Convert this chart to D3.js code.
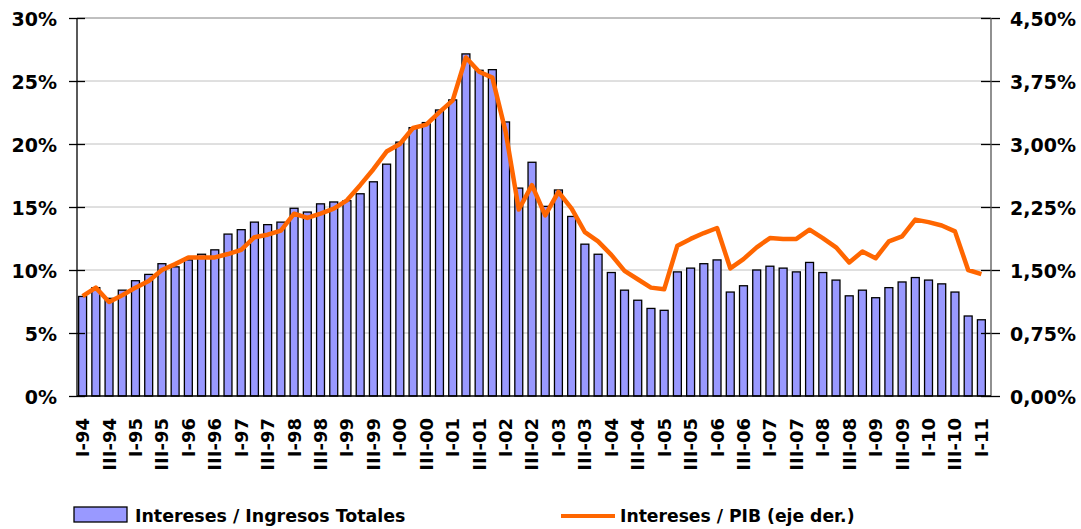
<!DOCTYPE html>
<html><head><meta charset="utf-8">
<script src="https://cdn.jsdelivr.net/npm/d3@7/dist/d3.min.js"></script>
<style>body{margin:0;background:#fff}svg{display:block}text{font-family:"DejaVu Sans",Verdana,sans-serif;font-weight:bold}</style>
</head><body><svg id="c" width="1081" height="529"></svg>
<script>
const years = ["94","95","96","97","98","99","00","01","02","03","04","05","06","07","08","09","10","11"];
const quarters = ["I","II","III","IV"];
const categories = [];
years.forEach(y => quarters.forEach(q => { if (categories.length < 69) categories.push(q + "-" + y); }));

const interesesIngresos = [7.9,8.6,7.75,8.4,9.15,9.65,10.5,10.25,10.8,11.25,11.6,12.85,13.2,13.8,13.6,13.8,
  14.9,14.6,15.25,15.4,15.5,16.05,17.0,18.4,20.15,21.3,21.7,22.7,23.5,27.15,25.85,25.9,
  21.75,16.5,18.55,15.05,16.35,14.25,12.05,11.25,9.8,8.4,7.6,6.95,6.8,9.85,10.15,10.5,
  10.8,8.25,8.75,10.0,10.3,10.15,9.85,10.6,9.8,9.2,7.95,8.4,7.8,8.6,9.05,9.4,9.2,8.9,8.25,6.35,6.05];
const interesesPIB = [1.19,1.29,1.12,1.2,1.29,1.37,1.5,1.57,1.65,1.65,1.65,1.69,1.74,1.89,1.92,1.97,
  2.17,2.12,2.17,2.23,2.33,2.51,2.7,2.91,3.0,3.19,3.23,3.38,3.52,4.03,3.86,3.79,
  3.15,2.22,2.51,2.15,2.43,2.23,1.95,1.84,1.68,1.49,1.39,1.29,1.27,1.79,1.87,1.94,
  2.0,1.52,1.63,1.77,1.88,1.87,1.87,1.98,1.88,1.77,1.59,1.72,1.64,1.84,1.9,2.1,2.07,2.03,1.96,1.5,1.45];
const leftTicks = [0,5,10,15,20,25,30];
const rightTicks = [0,0.75,1.5,2.25,3.0,3.75,4.5];
const seriesNames = ["Intereses / Ingresos Totales","Intereses / PIB (eje der.)"];

const svg = d3.select("#c");
const L = 77, R = 991, T = 18, B = 396;
const x = d3.scaleBand().domain(categories).range([76, 988]).paddingInner(0.4).paddingOuter(0.2);
const yL = d3.scaleLinear().domain([0,30]).range([B, T]);
const yR = d3.scaleLinear().domain([0,4.5]).range([B, T]);

// gridlines
svg.append("g").selectAll("line").data(leftTicks.slice(1)).join("line")
  .attr("x1", L).attr("x2", R).attr("y1", d => yL(d)).attr("y2", d => yL(d))
  .attr("stroke", d => d === 30 ? "#808080" : "#c0c0c0").attr("stroke-width", 1);

// bars
svg.append("g").selectAll("rect").data(interesesIngresos).join("rect")
  .attr("x", (d,i) => x(categories[i])).attr("width", x.bandwidth())
  .attr("y", d => yL(d)).attr("height", d => B - yL(d))
  .attr("fill", "#9999ff").attr("stroke", "#000").attr("stroke-width", 1.3);

// line
const line = d3.line().x((d,i) => x(categories[i]) + x.bandwidth()/2).y(d => yR(d));
svg.append("path").datum(interesesPIB).attr("d", line)
  .attr("fill", "none").attr("stroke", "#ff6600").attr("stroke-width", 4.5).attr("stroke-linejoin", "round");

// left axis
const gl = svg.append("g").attr("transform", `translate(${L},0)`);
gl.call(d3.axisLeft(yL).tickValues(leftTicks).tickSize(0).tickFormat(d => d + "%"));
gl.select(".domain").remove();
gl.append("line").attr("x1",0).attr("x2",0).attr("y1",T).attr("y2",B).attr("stroke","#000").attr("stroke-width",1.3);
gl.selectAll(".tick").append("line").attr("x1",-8).attr("x2",8).attr("stroke","#000").attr("stroke-width",1.3);
gl.selectAll(".tick text").attr("x",-20).attr("dy","0.42em").style("font-size","19px").attr("fill","#000");

// right axis
const gr = svg.append("g").attr("transform", `translate(${R},0)`);
gr.call(d3.axisRight(yR).tickValues(rightTicks).tickSize(0).tickFormat(d => d3.format(".2f")(d).replace(".", ",") + "%"));
gr.select(".domain").remove();
gr.append("line").attr("x1",0).attr("x2",0).attr("y1",T).attr("y2",B).attr("stroke","#555").attr("stroke-width",1.3);
gr.selectAll(".tick").append("line").attr("x1",-10).attr("x2",9).attr("stroke","#000").attr("stroke-width",1.3);
gr.selectAll(".tick text").attr("x",19).attr("dy","0.42em").style("font-size","19px").attr("fill","#000");

// bottom axis
const gb = svg.append("g").attr("transform", `translate(0,${B})`);
gb.call(d3.axisBottom(x).tickValues(categories.filter((c,i) => i % 2 === 0)).tickSize(0));
gb.select(".domain").remove();
gb.append("line").attr("x1",L).attr("x2",R).attr("y1",0).attr("y2",0).attr("stroke","#000").attr("stroke-width",1.3);
gb.selectAll(".tick text").attr("transform","rotate(-90)").attr("text-anchor","end")
  .attr("x",-22).attr("y",0).attr("dy","0.36em").style("font-size","18px").attr("fill","#000");

// legend
const lg = svg.append("g");
lg.append("rect").attr("x",74).attr("y",507).attr("width",53).attr("height",15)
  .attr("fill","#9999ff").attr("stroke","#000").attr("stroke-width",1.3);
lg.append("text").attr("x",135).attr("y",522).style("font-size","17.4px").text(seriesNames[0]);
lg.append("line").attr("x1",561).attr("x2",615).attr("y1",516).attr("y2",516)
  .attr("stroke","#ff6600").attr("stroke-width",4);
lg.append("text").attr("x",620).attr("y",522).style("font-size","17.2px").text(seriesNames[1]);
</script></body></html>
